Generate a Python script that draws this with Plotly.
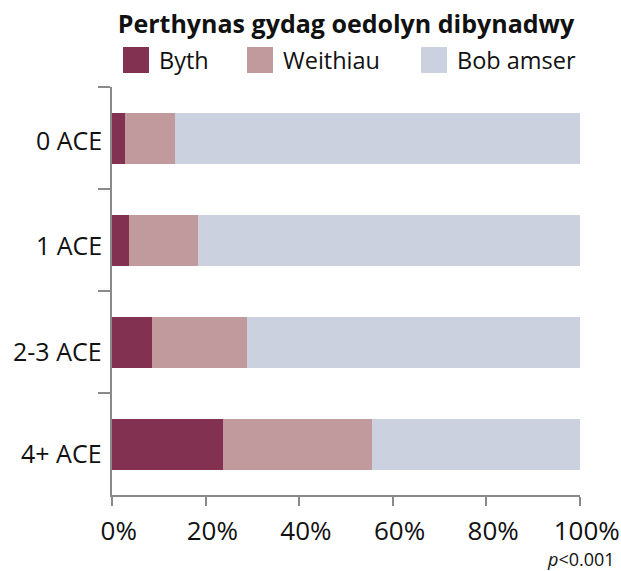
import plotly.graph_objects as go

categories = ["0 ACE", "1 ACE", "2-3 ACE", "4+ ACE"]
series_names = ["Byth", "Weithiau", "Bob amser"]
byth = [2.8, 3.6, 8.5, 23.7]
weithiau = [10.6, 14.7, 20.3, 31.8]
bob_amser = [86.6, 81.7, 71.2, 44.5]
x_ticks = [0, 20, 40, 60, 80, 100]
x_tick_labels = ["0%", "20%", "40%", "60%", "80%", "100%"]
colors = ["#833150", "#C19A9D", "#CBD1DE"]

FONT = "Open Sans, Noto Sans, DejaVu Sans, sans-serif"
NB = "\u00a0\u00a0"

fig = go.Figure()
for name, vals, col in zip(series_names, [byth, weithiau, bob_amser], colors):
    fig.add_trace(go.Bar(
        y=categories, x=vals, name=name, orientation="h",
        marker=dict(color=col, line=dict(width=0)),
        showlegend=False,
    ))

W, H = 621, 571
L, R, T, B = 112, 41, 87, 76

legend_x_px = [123, 247, 421]
legend_y_px = 60
sq = 26
pw = W - L - R
ph = H - T - B
def px_to_paper_x(px):
    return (px - L) / pw
def py_to_paper_y(py):
    return (H - B - py) / ph

shapes = []
annotations = []
for name, col, lx in zip(series_names, colors, legend_x_px):
    shapes.append(dict(type="rect", xref="paper", yref="paper",
                       x0=px_to_paper_x(lx), x1=px_to_paper_x(lx + sq),
                       y0=py_to_paper_y(legend_y_px + sq / 2), y1=py_to_paper_y(legend_y_px - sq / 2),
                       fillcolor=col, line=dict(width=0)))
    annotations.append(dict(text=name, xref="paper", yref="paper",
                            x=px_to_paper_x(lx + sq + 8), y=py_to_paper_y(legend_y_px),
                            xanchor="left", yanchor="middle", showarrow=False,
                            font=dict(family=FONT, size=23.5, color="#111111")))

# category labels (slightly lowered as in the original)
label_shifts = [-2, -5, -9, -9]
for cat, ys in zip(categories, label_shifts):
    annotations.append(dict(text=cat, xref="paper", yref="y", x=0, y=cat,
                            xanchor="right", yanchor="middle", xshift=-8, yshift=ys,
                            showarrow=False,
                            font=dict(family=FONT, size=25, color="#111111")))

annotations.append(dict(text="<i>p</i><0.001", xref="paper", yref="paper",
                        x=px_to_paper_x(617), y=py_to_paper_y(559),
                        xanchor="right", yanchor="middle", showarrow=False,
                        font=dict(family=FONT, size=18, color="#111111")))

fig.update_layout(
    width=W, height=H,
    margin=dict(l=L, r=R, t=T, b=B),
    paper_bgcolor="white", plot_bgcolor="white",
    barmode="stack", bargap=0.5,
    title=dict(text="<b>Perthynas gydag oedolyn dibynadwy</b>",
               x=346 / W, xanchor="center", y=1 - 24 / H, yanchor="middle",
               yref="container",
               font=dict(family=FONT, size=25, color="#111111")),
    shapes=shapes, annotations=annotations,
    font=dict(family=FONT, color="#111111"),
)
fig.update_xaxes(
    range=[0, 100], tickvals=x_ticks, ticktext=[NB + t for t in x_tick_labels],
    showgrid=False, zeroline=False,
    showline=True, linecolor="#8a8a8a", linewidth=1.5,
    ticks="outside", ticklen=9, tickcolor="#8a8a8a", tickwidth=1.5,
    tickfont=dict(family=FONT, size=26, color="#111111"),
    ticklabelstandoff=3, automargin=False,
)
fig.update_yaxes(
    autorange="reversed", tickson="boundaries", showticklabels=False,
    categoryorder="array", categoryarray=categories,
    showgrid=False, zeroline=False,
    showline=True, linecolor="#8a8a8a", linewidth=1.5,
    ticks="outside", ticklen=12, tickcolor="#8a8a8a", tickwidth=1.5,
    automargin=False,
)

fig.write_html("out.html", config={"displayModeBar": False})
with open("out.html", "r", encoding="utf-8") as f:
    html = f.read()
html = html.replace("<head>", "<head><style>html,body{margin:0;padding:0;overflow:hidden;}</style>", 1)
with open("out.html", "w", encoding="utf-8") as f:
    f.write(html)
